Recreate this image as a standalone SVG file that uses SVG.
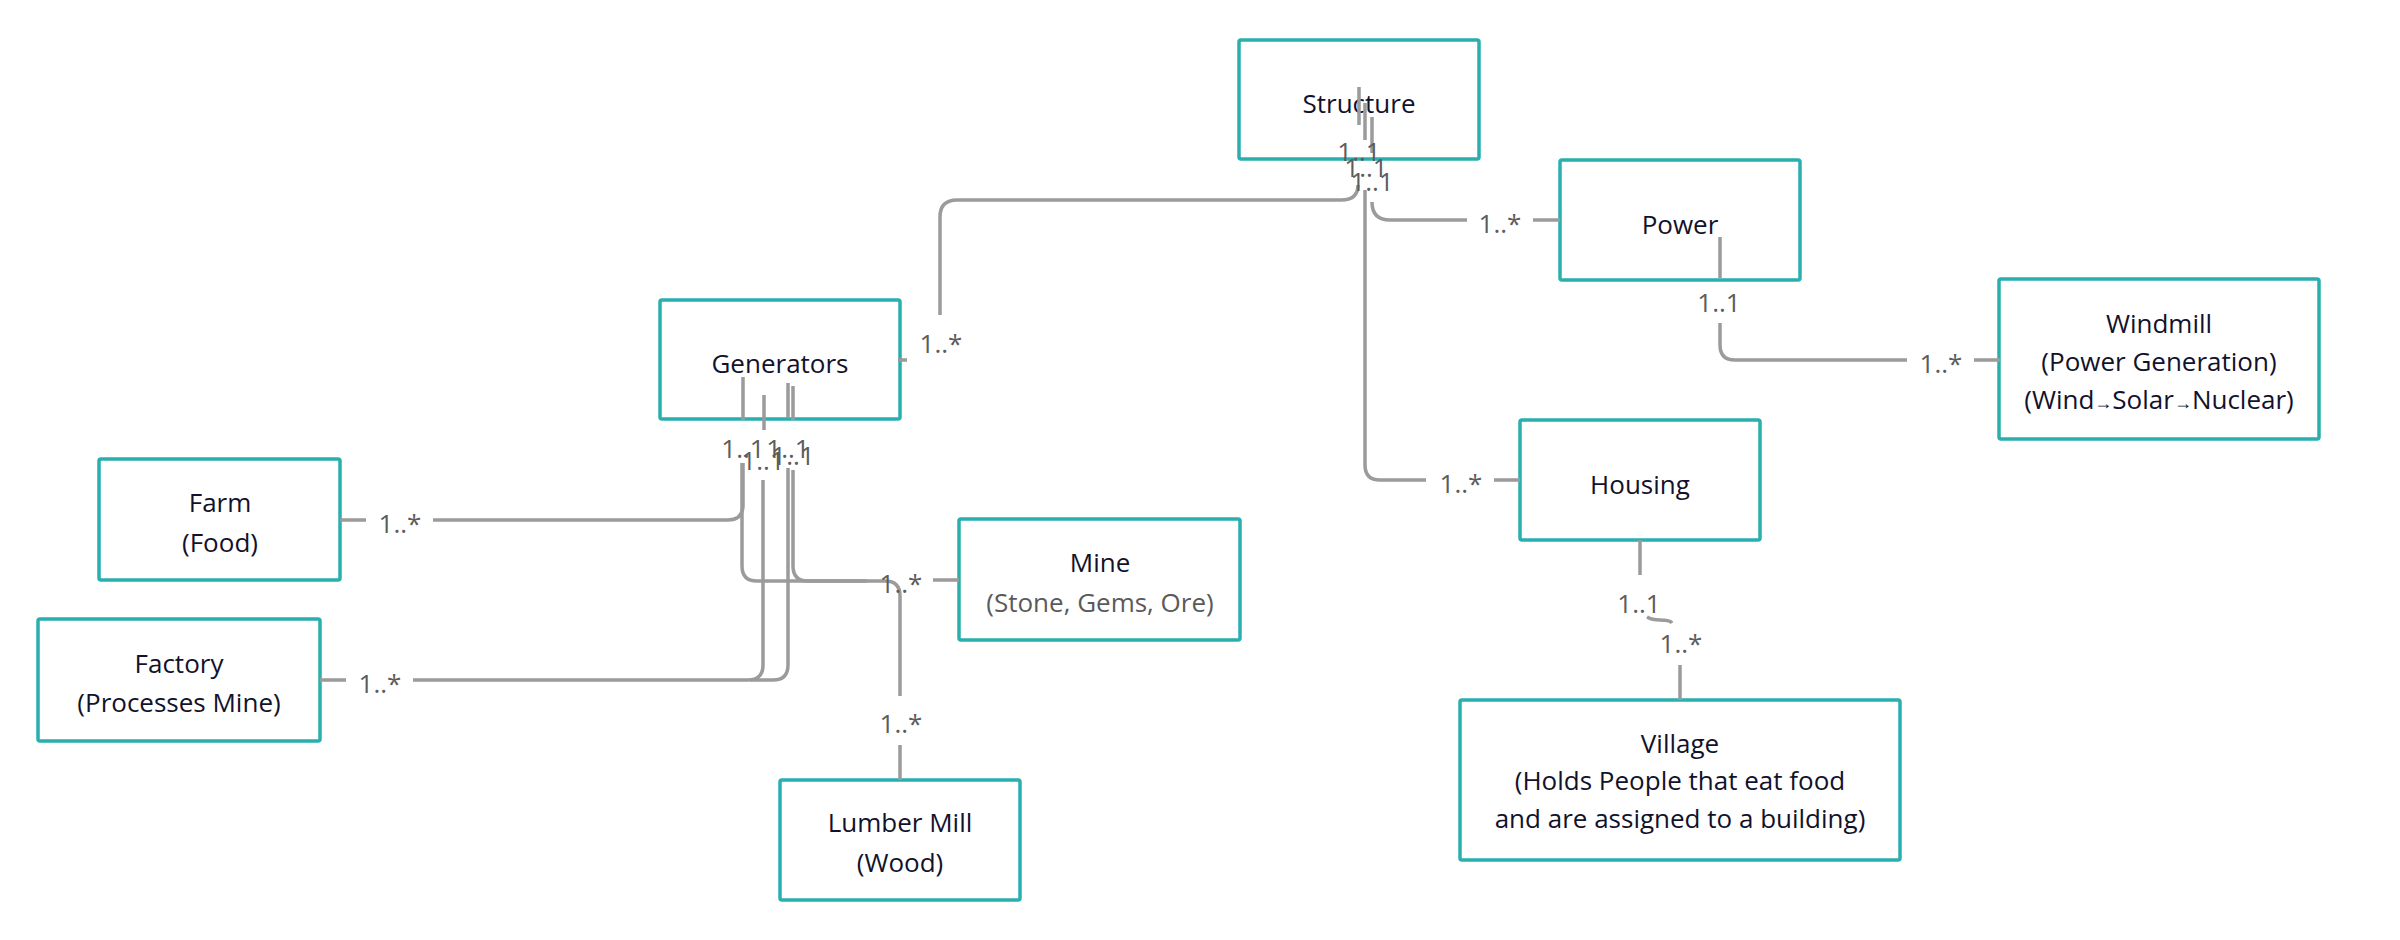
<svg xmlns="http://www.w3.org/2000/svg" width="2400" height="940" viewBox="0 0 2400 940">
<style>
.box{fill:#fff;stroke:#2aafae;stroke-width:3.5}
.t{font-family:"Open Sans","Noto Sans",sans-serif;font-size:26px;fill:#12122c;text-anchor:middle}
.g{fill:#5a5a5a}
.l{font-family:"Open Sans","Noto Sans",sans-serif;font-size:26px;fill:#5c5c5c;text-anchor:middle}
.c{fill:none;stroke:#9b9b9b;stroke-width:3.5}
.ar{font-size:18px}
</style>
<rect width="2400" height="940" fill="#fff"/>
<g id="structure"><rect class="box" x="1239" y="40" width="240" height="119" rx="2"/><text class="t" x="1359" y="113">Structure</text></g>
<g id="power"><rect class="box" x="1560" y="160" width="240" height="120" rx="2"/><text class="t" x="1680" y="234">Power</text></g>
<g id="windmill"><rect class="box" x="1999" y="279" width="320" height="160" rx="2"/><text class="t" x="2159" y="333">Windmill</text><text class="t" x="2159" y="371">(Power Generation)</text><text class="t" x="2159" y="409">(Wind<tspan class="ar">→</tspan>Solar<tspan class="ar">→</tspan>Nuclear)</text></g>
<g id="housing"><rect class="box" x="1520" y="420" width="240" height="120" rx="2"/><text class="t" x="1640" y="494">Housing</text></g>
<g id="village"><rect class="box" x="1460" y="700" width="440" height="160" rx="2"/><text class="t" x="1680" y="753">Village</text><text class="t" x="1680" y="790">(Holds People that eat food</text><text class="t" x="1680" y="828">and are assigned to a building)</text></g>
<g id="generators"><rect class="box" x="660" y="300" width="240" height="119" rx="2"/><text class="t" x="780" y="373">Generators</text></g>
<g id="farm"><rect class="box" x="99" y="459" width="241" height="121" rx="2"/><text class="t" x="220" y="512">Farm</text><text class="t" x="220" y="552">(Food)</text></g>
<g id="factory"><rect class="box" x="38" y="619" width="282" height="122" rx="2"/><text class="t" x="179" y="673">Factory</text><text class="t" x="179" y="712">(Processes Mine)</text></g>
<g id="mine"><rect class="box" x="959" y="519" width="281" height="121" rx="2"/><text class="t" x="1100" y="572">Mine</text><text class="t g" x="1100" y="612">(Stone, Gems, Ore)</text></g>
<g id="lumber"><rect class="box" x="780" y="780" width="240" height="120" rx="2"/><text class="t" x="900" y="832">Lumber Mill</text><text class="t" x="900" y="872">(Wood)</text></g>
<g id="connectors">
<path class="c" d="M1359,87V125M1365,103V140M1372,117V153"/>
<path class="c" d="M898,360H907M940,315V217Q940,200 957,200H1341Q1358,200 1358,185"/>
<path class="c" d="M1365,190V465Q1365,480 1380,480H1426M1494,480H1520"/>
<path class="c" d="M1372,202Q1372,220 1390,220H1467M1533,220H1560"/>
<path class="c" d="M1720,237V278M1720,323V345Q1720,360 1735,360H1907M1974,360H2000"/>
<path class="c" d="M1640,540V575M1647,617Q1652,620 1660,620Q1670,620 1672,623M1680,665V700"/>
<path class="c" d="M743,377V420M764,395V430M788,383V418M793,386V420"/>
<path class="c" d="M743,463V505Q743,520 728,520H433M366,520H340"/>
<path class="c" d="M742,463V566Q742,581 757,581H867M933,580H959"/>
<path class="c" d="M793,470V566Q793,581 808,581H885Q900,581 900,596V696M900,745V780"/>
<path class="c" d="M763,480V665Q763,680 748,680H413M346,680H320"/>
<path class="c" d="M788,468V665Q788,680 773,680H750"/>
<text class="l" x="1359" y="161">1..1</text>
<text class="l" x="1366" y="177">1..1</text>
<text class="l" x="1372" y="191">1..1</text>
<text class="l" x="941" y="353">1..*</text>
<text class="l" x="1500" y="233">1..*</text>
<text class="l" x="1461" y="493">1..*</text>
<text class="l" x="1719" y="312">1..1</text>
<text class="l" x="1941" y="373">1..*</text>
<text class="l" x="1639" y="613">1..1</text>
<text class="l" x="1681" y="653">1..*</text>
<text class="l" x="743" y="458">1..1</text>
<text class="l" x="763" y="470">1..1</text>
<text class="l" x="788" y="458">1..1</text>
<text class="l" x="793" y="465">1..1</text>
<text class="l" x="400" y="533">1..*</text>
<text class="l" x="380" y="693">1..*</text>
<text class="l" x="901" y="593">1..*</text>
<text class="l" x="901" y="733">1..*</text>
</g>
</svg>
